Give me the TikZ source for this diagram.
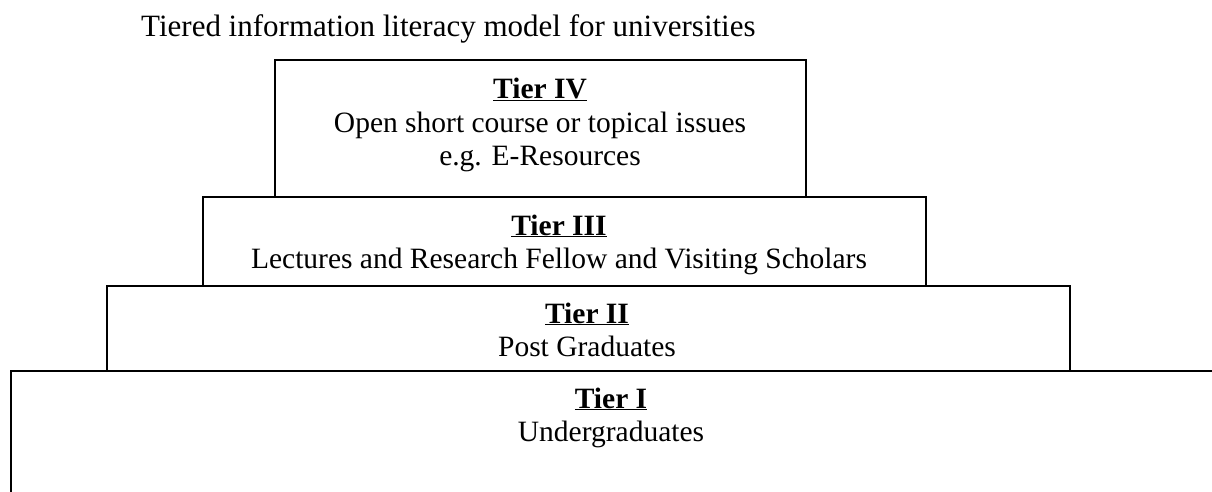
\documentclass[tikz,border=0pt]{standalone}
\usepackage{fontspec}
\setmainfont{Liberation Serif}
\usetikzlibrary{positioning}

\tikzset{
	tierbox/.style={draw, line width=2.2pt, inner sep=0pt, anchor=north west},
	tiertext/.style={inner sep=0pt, anchor=base, font=\fontsize{29.5}{33}\selectfont}
}
\newcommand{\tiername}[1]{\underline{\textbf{#1}}}

\begin{document}
\begin{tikzpicture}[x=1pt, y=-1pt]
	\useasboundingbox (0,0) rectangle (1212,491);
	\clip (0,0) rectangle (1212,491);
	\node[anchor=base west, inner sep=0pt, font=\fontsize{31}{35}\selectfont] (title) at (141,36) {Tiered information literacy model for universities};
	% tiers, widest at the bottom (runs off the page)
	\node[tierbox, minimum width=1230, minimum height=200] (t1) at (10,370) {};
	\node[tierbox, minimum width=963, minimum height=85] (t2) at (106,285) {};
	\node[tierbox, minimum width=723, minimum height=89] (t3) at (202,196) {};
	\node[tierbox, minimum width=531, minimum height=137] (t4) at (274,59) {};
	% texts
	\node[tiertext] (t4head) at (540,98) {\tiername{Tier IV}};
	\node[tiertext] (t4line) at (540,132) {Open short course or topical issues};
	\node[tiertext] (t4eg) at (540,165) {e.g. E-Resources};
	\node[tiertext] (t3head) at (559,235) {\tiername{Tier III}};
	\node[tiertext] (t3line) at (559,268) {Lectures and Research Fellow and Visiting Scholars};
	\node[tiertext] (t2head) at (587,323) {\tiername{Tier II}};
	\node[tiertext] (t2line) at (587,356) {Post Graduates};
	\node[tiertext] (t1head) at (611,408) {\tiername{Tier I}};
	\node[tiertext] (t1line) at (611,441) {Undergraduates};
\end{tikzpicture}
\end{document}
